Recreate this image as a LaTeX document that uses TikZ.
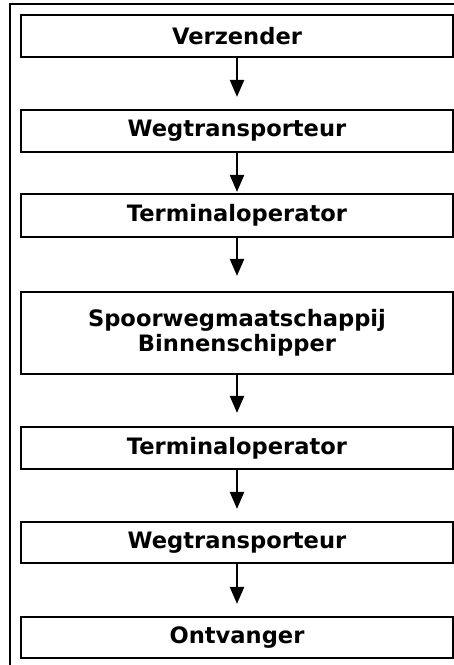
\documentclass[tikz,border=0pt]{standalone}
\usepackage{fontspec}
\setmainfont{DejaVu Sans}
\usetikzlibrary{arrows.meta}

\tikzset{
  actor/.style={draw, line width=2.2pt, minimum width=432pt, minimum height=42pt,
    align=center, inner sep=0pt, font=\bfseries\fontsize{22.6}{25}\selectfont},
  flow/.style={-{Triangle[length=17pt,width=14pt]}, line width=2.2pt, shorten >=12pt}
}

\begin{document}
\begin{tikzpicture}[x=1pt,y=-1pt]
  \useasboundingbox (0,0) rectangle (454,665);
  \draw[line width=2pt] (10,665) -- (10,4) -- (454,4);

  \node[actor] (vz) at (237,36) {Verzender};
  \node[actor] (wt1) at (237,131) {Wegtransporteur};
  \node[actor, minimum height=43pt] (to1) at (237,215.5) {Terminaloperator};
  \node[actor, minimum height=82pt] (sb) at (237,333) {Spoorwegmaatschappij\\Binnenschipper};
  \node[actor] (to2) at (237,448) {Terminaloperator};
  \node[actor, minimum height=41pt] (wt2) at (237,542.5) {Wegtransporteur};
  \node[actor, minimum height=41pt] (ov) at (237,637.5) {Ontvanger};

  \draw[flow] (vz)--(wt1);
  \draw[flow, shorten >=1pt] (wt1)--(to1);
  \draw[flow, shorten >=15pt] (to1)--(sb);
  \draw[flow, shorten >=13pt] (sb)--(to2);
  \draw[flow] (to2)--(wt2);
  \draw[flow] (wt2)--(ov);
\end{tikzpicture}
\end{document}
